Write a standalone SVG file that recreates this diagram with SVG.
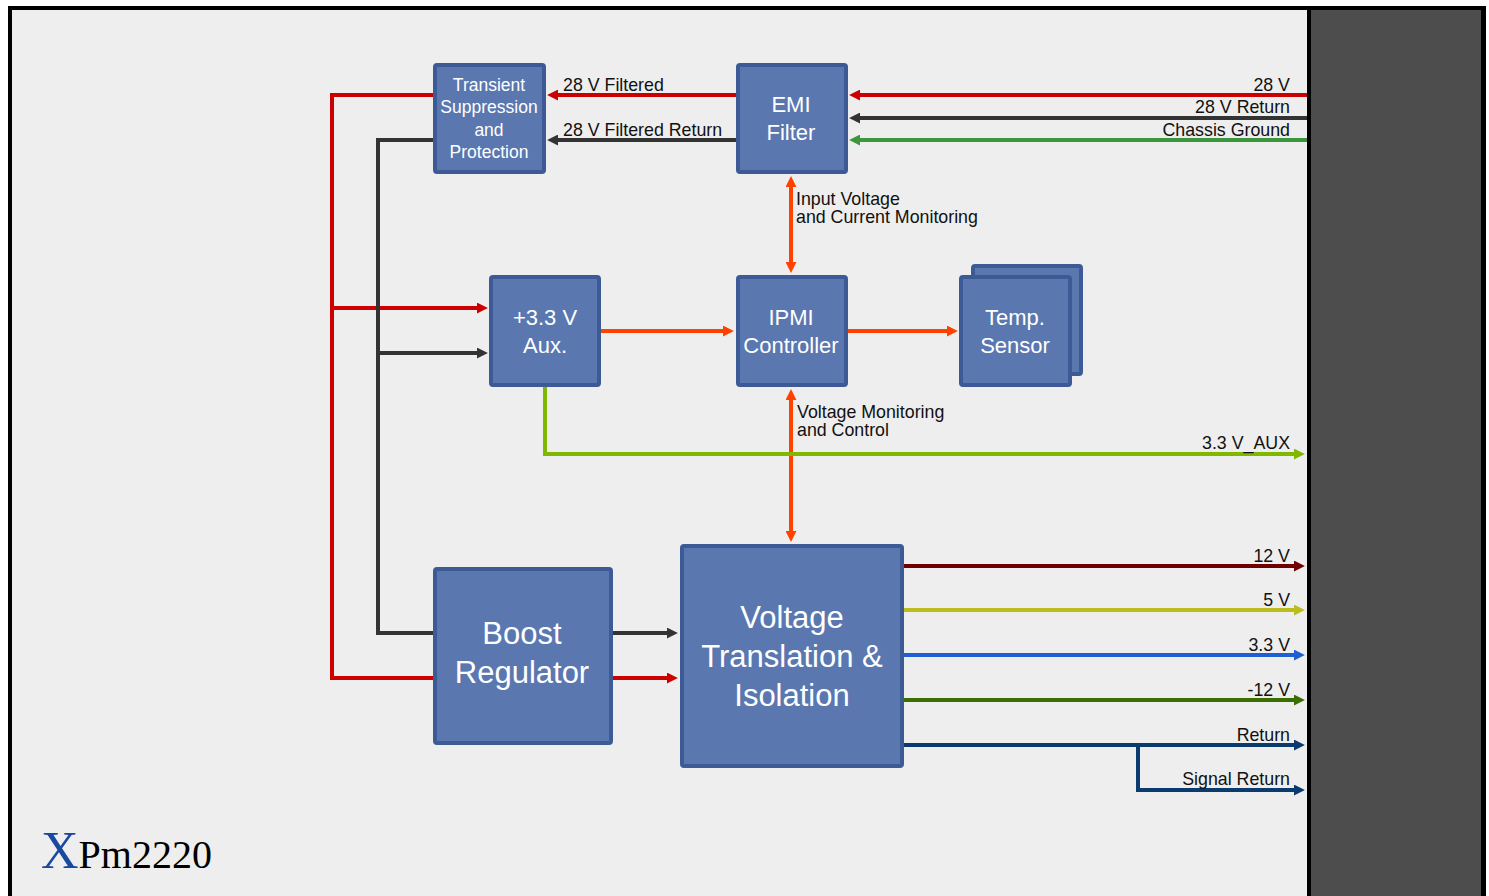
<svg xmlns="http://www.w3.org/2000/svg" width="1489" height="896" viewBox="0 0 1489 896">
<style>
.box{fill:#5a77b0;stroke:#3c5b96;stroke-width:4}
.bt{font-family:"Liberation Sans",Arial,sans-serif;fill:#ffffff;text-anchor:middle}
.lbl{font-family:"Liberation Sans",Arial,sans-serif;font-size:17.8px;fill:#111111}
.r{text-anchor:end}
.c{fill:none;stroke-width:4;stroke-linejoin:miter;stroke-linecap:butt}
</style>
<defs>
<marker id="aRed" viewBox="0 0 10 10" refX="1" refY="5" markerWidth="11" markerHeight="11" markerUnits="userSpaceOnUse" orient="auto-start-reverse"><path d="M0,0 L10,5 L0,10 z" fill="#cc0000"/></marker>
<marker id="aDark" viewBox="0 0 10 10" refX="1" refY="5" markerWidth="11" markerHeight="11" markerUnits="userSpaceOnUse" orient="auto-start-reverse"><path d="M0,0 L10,5 L0,10 z" fill="#333333"/></marker>
<marker id="aGreen" viewBox="0 0 10 10" refX="1" refY="5" markerWidth="11" markerHeight="11" markerUnits="userSpaceOnUse" orient="auto-start-reverse"><path d="M0,0 L10,5 L0,10 z" fill="#3c963c"/></marker>
<marker id="aOr" viewBox="0 0 10 10" refX="1" refY="5" markerWidth="11" markerHeight="11" markerUnits="userSpaceOnUse" orient="auto-start-reverse"><path d="M0,0 L10,5 L0,10 z" fill="#ff4200"/></marker>
<marker id="aLime" viewBox="0 0 10 10" refX="1" refY="5" markerWidth="11" markerHeight="11" markerUnits="userSpaceOnUse" orient="auto-start-reverse"><path d="M0,0 L10,5 L0,10 z" fill="#80b800"/></marker>
<marker id="aDR" viewBox="0 0 10 10" refX="1" refY="5" markerWidth="11" markerHeight="11" markerUnits="userSpaceOnUse" orient="auto-start-reverse"><path d="M0,0 L10,5 L0,10 z" fill="#700000"/></marker>
<marker id="aOl" viewBox="0 0 10 10" refX="1" refY="5" markerWidth="11" markerHeight="11" markerUnits="userSpaceOnUse" orient="auto-start-reverse"><path d="M0,0 L10,5 L0,10 z" fill="#bcbc1c"/></marker>
<marker id="aBl" viewBox="0 0 10 10" refX="1" refY="5" markerWidth="11" markerHeight="11" markerUnits="userSpaceOnUse" orient="auto-start-reverse"><path d="M0,0 L10,5 L0,10 z" fill="#1e60d2"/></marker>
<marker id="aDG" viewBox="0 0 10 10" refX="1" refY="5" markerWidth="11" markerHeight="11" markerUnits="userSpaceOnUse" orient="auto-start-reverse"><path d="M0,0 L10,5 L0,10 z" fill="#3a6e00"/></marker>
<marker id="aNv" viewBox="0 0 10 10" refX="1" refY="5" markerWidth="11" markerHeight="11" markerUnits="userSpaceOnUse" orient="auto-start-reverse"><path d="M0,0 L10,5 L0,10 z" fill="#0a3a6e"/></marker>
</defs>

<g id="frame">
<rect x="10" y="8" width="1474" height="900" fill="#eeeeee" stroke="#000000" stroke-width="4"/>
<rect x="1309" y="8" width="174" height="900" fill="#4d4d4d" stroke="#000000" stroke-width="4"/>
</g>

<g id="connectors">
<path class="c" stroke="#cc0000" d="M1307,95 H859" marker-end="url(#aRed)"/>
<path class="c" stroke="#333333" d="M1307,118 H859" marker-end="url(#aDark)"/>
<path class="c" stroke="#3c963c" d="M1307,140 H859" marker-end="url(#aGreen)"/>
<path class="c" stroke="#cc0000" d="M736,95 H557" marker-end="url(#aRed)"/>
<path class="c" stroke="#333333" d="M736,140 H557" marker-end="url(#aDark)"/>
<path class="c" stroke="#cc0000" d="M433,95 H332 V678 H433"/>
<path class="c" stroke="#cc0000" d="M332,308 H478" marker-end="url(#aRed)"/>
<path class="c" stroke="#333333" d="M433,140 H378 V633 H433"/>
<path class="c" stroke="#333333" d="M378,353 H478" marker-end="url(#aDark)"/>
<path class="c" stroke="#333333" d="M612,633 H668" marker-end="url(#aDark)"/>
<path class="c" stroke="#cc0000" d="M612,678 H668" marker-end="url(#aRed)"/>
<path class="c" stroke="#ff4200" d="M600,331 H724" marker-end="url(#aOr)"/>
<path class="c" stroke="#ff4200" d="M847,331 H948" marker-end="url(#aOr)"/>
<path class="c" stroke="#ff4200" d="M791,186 V263" marker-start="url(#aOr)" marker-end="url(#aOr)"/>
<path class="c" stroke="#ff4200" d="M791,399 V532" marker-start="url(#aOr)" marker-end="url(#aOr)"/>
<path class="c" stroke="#80b800" d="M545,386 V454 H1295" marker-end="url(#aLime)"/>
<path class="c" stroke="#700000" d="M903,566 H1295" marker-end="url(#aDR)"/>
<path class="c" stroke="#bcbc1c" d="M903,610 H1295" marker-end="url(#aOl)"/>
<path class="c" stroke="#1e60d2" d="M903,655 H1295" marker-end="url(#aBl)"/>
<path class="c" stroke="#3a6e00" d="M903,700 H1295" marker-end="url(#aDG)"/>
<path class="c" stroke="#0a3a6e" d="M903,745 H1295" marker-end="url(#aNv)"/>
<path class="c" stroke="#0a3a6e" d="M1138,745 V790 H1295" marker-end="url(#aNv)"/>
</g>

<g id="labels">
<text class="lbl r" x="1290" y="91">28 V</text>
<text class="lbl r" x="1290" y="113">28 V Return</text>
<text class="lbl r" x="1290" y="136">Chassis Ground</text>
<text class="lbl" x="563" y="91">28 V Filtered</text>
<text class="lbl" x="563" y="136">28 V Filtered Return</text>
<text class="lbl" x="796" y="205">Input Voltage</text>
<text class="lbl" x="796" y="223">and Current Monitoring</text>
<text class="lbl" x="797" y="418">Voltage Monitoring</text>
<text class="lbl" x="797" y="436">and Control</text>
<text class="lbl r" x="1290" y="449">3.3 V_AUX</text>
<text class="lbl r" x="1290" y="562">12 V</text>
<text class="lbl r" x="1290" y="606">5 V</text>
<text class="lbl r" x="1290" y="651">3.3 V</text>
<text class="lbl r" x="1290" y="696">-12 V</text>
<text class="lbl r" x="1290" y="741">Return</text>
<text class="lbl r" x="1290" y="785">Signal Return</text>
</g>

<g id="transient">
<rect class="box" x="435" y="65" width="109" height="107" rx="2"/>
<text class="bt" font-size="17.5" x="489" y="91">Transient</text>
<text class="bt" font-size="17.5" x="489" y="113">Suppression</text>
<text class="bt" font-size="17.5" x="489" y="136">and</text>
<text class="bt" font-size="17.5" x="489" y="158">Protection</text>
</g>

<g id="emi">
<rect class="box" x="738" y="65" width="108" height="107" rx="2"/>
<text class="bt" font-size="22" x="791" y="112">EMI</text>
<text class="bt" font-size="22" x="791" y="140">Filter</text>
</g>

<g id="aux">
<rect class="box" x="491" y="277" width="108" height="108" rx="2"/>
<text class="bt" font-size="22" x="545" y="325">+3.3 V</text>
<text class="bt" font-size="22" x="545" y="353">Aux.</text>
</g>

<g id="ipmi">
<rect class="box" x="738" y="277" width="108" height="108" rx="2"/>
<text class="bt" font-size="22" x="791" y="325">IPMI</text>
<text class="bt" font-size="22" x="791" y="353">Controller</text>
</g>

<g id="temp">
<rect class="box" x="973" y="266" width="108" height="108" rx="2"/>
<rect class="box" x="961" y="277" width="109" height="108" rx="2"/>
<text class="bt" font-size="22" x="1015" y="325">Temp.</text>
<text class="bt" font-size="22" x="1015" y="353">Sensor</text>
</g>

<g id="boost">
<rect class="box" x="435" y="569" width="176" height="174" rx="2"/>
<text class="bt" font-size="31" x="522" y="644">Boost</text>
<text class="bt" font-size="31" x="522" y="683">Regulator</text>
</g>

<g id="vti">
<rect class="box" x="682" y="546" width="220" height="220" rx="2"/>
<text class="bt" font-size="31" x="792" y="628">Voltage</text>
<text class="bt" font-size="31" x="792" y="667">Translation &amp;</text>
<text class="bt" font-size="31" x="792" y="706">Isolation</text>
</g>

<g id="logo">
<text x="41" y="868" font-family="'Liberation Serif','Times New Roman',serif"><tspan font-size="52" fill="#1a4aa0">X</tspan><tspan font-size="40" fill="#000000">Pm2220</tspan></text>
</g>
</svg>
